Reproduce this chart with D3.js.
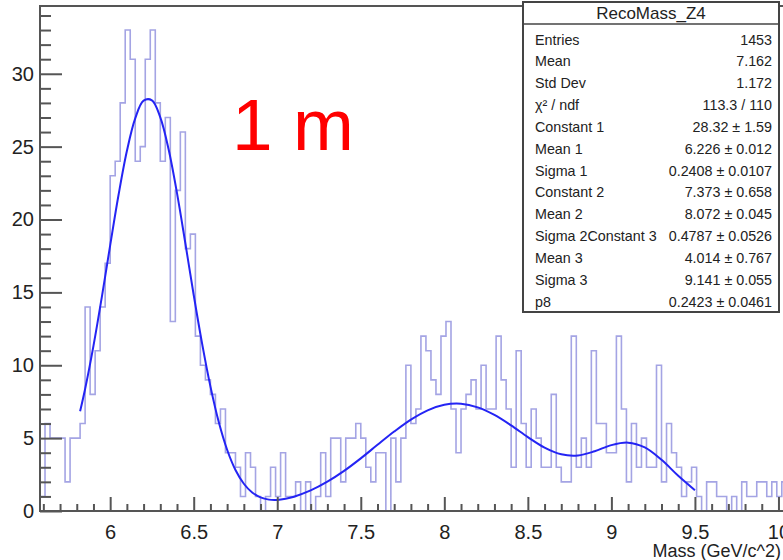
<!DOCTYPE html>
<html>
<head>
<meta charset="utf-8">
<script src="https://cdn.jsdelivr.net/npm/d3@7"></script>
<style>
  body { margin: 0; background: #fff; }
  svg { display: block; font-family: "Liberation Sans", Arial, sans-serif; }
</style>
</head>
<body>
<svg id="chart" width="783" height="560"></svg>
<script>
// RecoMass_Z4 histogram, uniform bins starting at binStart
const binStart = 5.58;
const binWidth = 0.03;
const counts = [
    1, 6, 5, 5, 5, 2, 5, 5, 6, 14, 8, 11, 14, 17,
    23, 24, 28, 33, 31, 24, 25, 31, 33, 28, 24, 27, 13, 22, 26, 18, 19, 12,
    10, 9, 8, 6, 7, 4, 4, 3, 1, 4, 3, 1, 0, 1, 3, 1, 4, 1, 1, 2, 0, 2, 0, 1,
    4, 1, 5, 5, 2, 5, 5, 6, 5, 3, 2, 4, 4, 0, 5, 2, 5, 10, 6, 7,
    12, 11, 9, 8, 12, 13, 7, 4, 7, 8, 9, 7, 10, 7, 7, 12, 9, 7, 3, 11, 6, 3, 7, 5,
    3, 3, 8, 3, 2, 2, 12, 3, 5, 3, 11, 6, 6, 4, 4, 12, 7, 2, 6, 3, 5, 3, 3, 10,
    2, 6, 4, 3, 1, 2, 3, 1,
    0, 2, 2, 1, 1, 0, 1, 0, 2, 1, 1, 2, 2, 1, 2, 1, 2
];

// fit curve
const fitX = [5.82, 5.85, 5.9, 5.95, 6.0, 6.05, 6.1, 6.15, 6.2, 6.25, 6.3, 6.35, 6.4, 6.45,
    6.5, 6.55, 6.6, 6.65, 6.7, 6.75, 6.8, 6.85, 6.9, 6.95, 7.0, 7.05, 7.1, 7.2, 7.3, 7.4,
    7.5, 7.6, 7.7, 7.8, 7.9, 8.0, 8.1, 8.2, 8.3, 8.4, 8.5, 8.6, 8.7, 8.8, 8.9, 9.0, 9.1,
    9.2, 9.3, 9.4, 9.5];
const fitY = [6.84, 8.37, 11.33, 14.68, 18.23, 21.68, 24.70, 26.94, 28.16, 28.18, 27.01, 24.80, 21.81, 18.37,
    14.82, 11.50, 8.55, 6.10, 4.20, 2.81, 1.87, 1.27, 0.93, 0.78, 0.76, 0.84, 0.98, 1.41, 2.01, 2.75,
    3.61, 4.54, 5.45, 6.27, 6.91, 7.29, 7.36, 7.11, 6.59, 5.87, 5.07, 4.35, 3.89, 3.81, 4.10, 4.52, 4.69,
    4.36, 3.51, 2.42, 1.43];

const xTicks = [6, 6.5, 7, 7.5, 8, 8.5, 9, 9.5, 10];
const yTicks = [0, 5, 10, 15, 20, 25, 30];

const statTitle = 'RecoMass_Z4';
const statLabels = ['Entries', 'Mean', 'Std Dev', 'χ² / ndf', 'Constant 1', 'Mean 1', 'Sigma 1',
    'Constant 2', 'Mean 2', 'Sigma 2Constant 3', 'Mean 3', 'Sigma 3', 'p8'];
const statValues = ['1453', '7.162', '1.172', '113.3 / 110', '28.32 ± 1.59', '6.226 ± 0.012',
    '0.2408 ± 0.0107', '7.373 ± 0.658', '8.072 ± 0.045', '0.4787 ± 0.0526', '4.014 ± 0.767',
    '9.141 ± 0.055', '0.2423 ± 0.0461'];

const frame = {left: 40, top: 6, right: 862, bottom: 511};

const svg = d3.select('#chart');

const xscale = d3.scaleLinear().domain([5.58, 10.5]).range([frame.left, frame.right]);
const yscale = d3.scaleLinear().domain([0, 34.65]).range([frame.bottom, frame.top]);

svg.append('defs').append('clipPath').attr('id', 'frame_clip')
    .append('rect')
    .attr('x', frame.left).attr('y', frame.top)
    .attr('width', frame.right - frame.left).attr('height', frame.bottom - frame.top);

// histogram outline
const histPoints = [[binStart, 0]];
counts.forEach((c, i) => {
    histPoints.push([binStart + i * binWidth, c]);
    histPoints.push([binStart + (i + 1) * binWidth, c]);
});
histPoints.push([binStart + counts.length * binWidth, 0]);

const line = d3.line().x(d => xscale(d[0])).y(d => yscale(d[1]));

const plot = svg.append('g').attr('clip-path', 'url(#frame_clip)');

plot.append('path')
    .attr('d', line(histPoints))
    .attr('fill', 'none')
    .attr('stroke', '#a4a4e4')
    .attr('stroke-width', 1.6);

const fitLine = d3.line()
    .x((d, i) => xscale(fitX[i]))
    .y(d => yscale(d))
    .curve(d3.curveCatmullRom);

plot.append('path')
    .attr('d', fitLine(fitY))
    .attr('fill', 'none')
    .attr('stroke', '#2424f4')
    .attr('stroke-width', 2);

// axes
const xMinor = d3.range(56, 106).map(v => v / 10).filter(v => !xTicks.includes(v));
const yMinor = d3.range(0, 35).filter(v => !yTicks.includes(v));

const xaxis_group = svg.append('g').attr('transform', `translate(0, ${frame.bottom})`);
xaxis_group.call(d3.axisBottom(xscale).tickValues(xTicks).tickSize(-14).tickPadding(16)
    .tickFormat(d3.format('')));
const xminor_group = svg.append('g').attr('transform', `translate(0, ${frame.bottom})`);
xminor_group.call(d3.axisBottom(xscale).tickValues(xMinor).tickSize(-7).tickFormat(''));

const yaxis_group = svg.append('g').attr('transform', `translate(${frame.left}, 0)`);
yaxis_group.call(d3.axisLeft(yscale).tickValues(yTicks).tickSize(-22).tickPadding(6));
const yminor_group = svg.append('g').attr('transform', `translate(${frame.left}, 0)`);
yminor_group.call(d3.axisLeft(yscale).tickValues(yMinor).tickSize(-11).tickFormat(''));

svg.selectAll('.domain').remove();
svg.selectAll('.tick line').attr('stroke', '#555').attr('stroke-width', 2);
svg.selectAll('.tick text')
    .attr('font-size', 20)
    .attr('font-family', '"Liberation Sans", Arial, sans-serif')
    .attr('fill', '#222');
// x labels: glyph tops just below the ticks, like the reference
xaxis_group.selectAll('.tick text').attr('dy', '0.6em');

// frame
svg.append('rect')
    .attr('x', frame.left).attr('y', frame.top)
    .attr('width', frame.right - frame.left).attr('height', frame.bottom - frame.top)
    .attr('fill', 'none')
    .attr('stroke', '#555')
    .attr('stroke-width', 2);

svg.append('text')
    .attr('x', 781).attr('y', 557)
    .attr('text-anchor', 'end')
    .attr('font-size', 18)
    .attr('fill', '#222')
    .text('Mass (GeV/c^2)');

svg.append('text')
    .attr('x', 232).attr('y', 150)
    .attr('font-size', 73)
    .attr('fill', '#ff0000')
    .text('1 m');

// stats box
const box = {x: 523, y: 2, w: 256, rowH: 21.85};
const stats = svg.append('g');
stats.append('rect')
    .attr('x', box.x).attr('y', box.y)
    .attr('width', box.w).attr('height', 310)
    .attr('fill', '#fff')
    .attr('stroke', '#444')
    .attr('stroke-width', 2);
stats.append('line')
    .attr('x1', box.x).attr('x2', box.x + box.w)
    .attr('y1', 24).attr('y2', 24)
    .attr('stroke', '#444').attr('stroke-width', 1.5);
stats.append('text')
    .attr('x', box.x + box.w / 2).attr('y', 19)
    .attr('text-anchor', 'middle')
    .attr('font-size', 17)
    .attr('fill', '#222')
    .text(statTitle);

statLabels.forEach((label, i) => {
    const yy = 39.5 + i * box.rowH + 5;
    stats.append('text')
        .attr('x', box.x + 12).attr('y', yy)
        .attr('font-size', 14.3)
        .attr('fill', '#222')
        .text(label);
    stats.append('text')
        .attr('x', box.x + 249).attr('y', yy)
        .attr('text-anchor', 'end')
        .attr('font-size', 14.3)
        .attr('fill', '#222')
        .text(statValues[i]);
});
</script>
</body>
</html>
